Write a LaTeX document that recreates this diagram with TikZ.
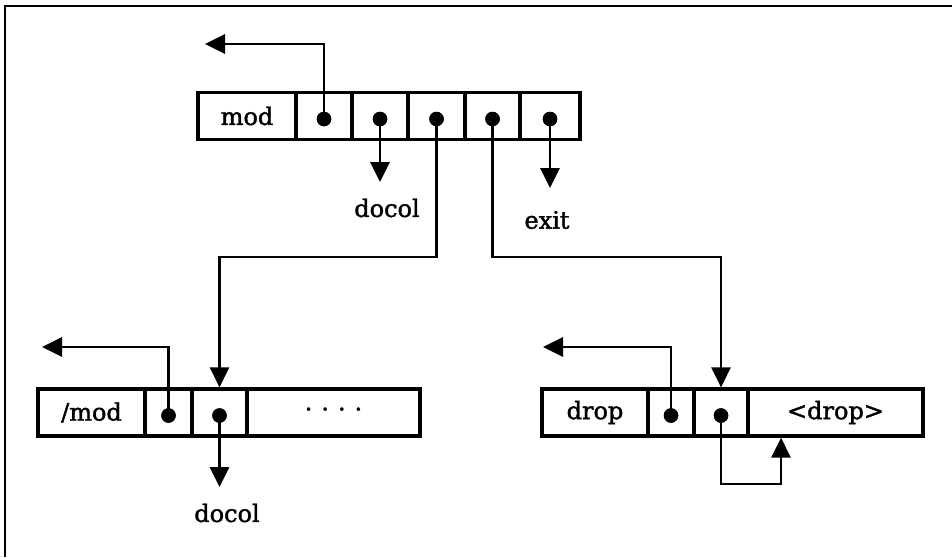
\documentclass[tikz,border=0pt]{standalone}
\usepackage{fontspec}
\newfontfamily\wordfont[FakeBold=1.6]{DejaVu Serif}
\usetikzlibrary{arrows.meta}
\begin{document}
\begin{tikzpicture}[x=1pt,y=-1pt,
  cell/.style={draw, line width=3.2pt, minimum height=47pt, inner sep=0pt,
               outer sep=0pt, anchor=west,
               font=\wordfont\fontsize{24}{28}\selectfont},
  dot/.style={circle, fill, inner sep=0pt, minimum size=14.5pt},
  conn/.style={line width=2.8pt, -{Triangle[length=20pt,width=19pt]}},
  lbl/.style={inner sep=0pt, font=\wordfont\fontsize{24}{28}\selectfont}]
\useasboundingbox (0,0) rectangle (952,557);

% page frame
\draw[line width=1.6pt] (5,557) -- (5,6) -- (952,6);

% word "mod"
\node[cell, minimum width=98pt] (t0) at (198,116) {mod};
\node[cell, minimum width=56pt] (t1) at (296,116) {};
\node[cell, minimum width=56pt] (t2) at (352,116) {};
\node[cell, minimum width=57pt] (t3) at (408,116) {};
\node[cell, minimum width=55pt] (t4) at (465,116) {};
\node[cell, minimum width=60pt] (t5) at (520,116) {};

% word "/mod"
\node[cell, minimum width=107pt] (b0) at (38,412.5) {/mod};
\node[cell, minimum width=47pt] (b1) at (145,412.5) {};
\node[cell, minimum width=55pt] (b2) at (192,412.5) {};
\node[cell, minimum width=173pt] (b3) at (247,412.5) {·\hspace{9pt}·\hspace{9pt}·\hspace{9pt}·};

% word "drop"
\node[cell, minimum width=106pt] (r0) at (542,412.5) {drop};
\node[cell, minimum width=46pt] (r1) at (648,412.5) {};
\node[cell, minimum width=54pt] (r2) at (694,412.5) {};
\node[cell, minimum width=175pt] (r3) at (748,412.5) {<drop>};

% labels
\node[lbl] (dc1) at (387,208) {docol};
\node[lbl] (ex) at (547,220) {exit};
\node[lbl] (dc2) at (227,513) {docol};

% pointer dots
\foreach \c in {t1,t2,t3,t4,t5,b1,b2,r1,r2}
  \node[dot] (\c d) at ([yshift=-3pt]\c.center) {};

% free ends
\coordinate (ra) at (205,44);
\coordinate (e2) at (0,182);
\coordinate (e5) at (0,188);
\coordinate (h) at (0,257);
\coordinate (rb) at (42,347);
\coordinate (eb) at (0,487);
\coordinate (rr) at (543,347);
\coordinate (lp) at (781,484);

% connectors
\draw[conn] (t1d.center) |- (ra);
\draw[conn] (t2d.center) -- (t2d.center |- e2);
\draw[conn] (t5d.center) -- (t5d.center |- e5);
\draw[conn] (t3d.center) -- (t3d.center |- h) -| ([yshift=1.6pt]b2.north);
\draw[conn] (t4d.center) -- (t4d.center |- h) -| ([yshift=1.6pt]r2.north);
\draw[conn] (b1d.center) |- (rb);
\draw[conn] (b2d.center) -- (b2d.center |- eb);
\draw[conn] (r1d.center) |- (rr);
\draw[conn] (r2d.center) |- (lp) -- ([yshift=-1.6pt]lp |- r3.south);

% redraw dots over wire ends
\foreach \c in {t1,t2,t3,t4,t5,b1,b2,r1,r2}
  \fill (\c d) circle (7.25pt);
\end{tikzpicture}
\end{document}
